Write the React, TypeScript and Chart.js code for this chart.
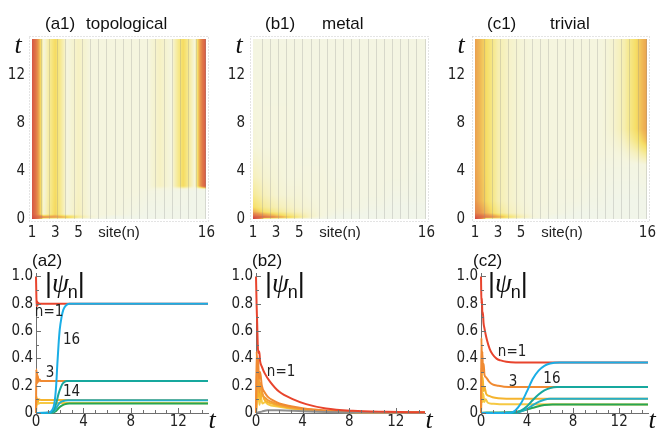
import React, { useEffect, useRef } from "react";
import { Chart, registerables } from "chart.js";

Chart.register(...registerables);

type Pt = [number, number];

// ---------------- heat maps: |psi_n| over site n (columns) and time t (rows) ----------------
const SITES = [1, 2, 3, 4, 5, 6, 7, 8, 9, 10, 11, 12, 13, 14, 15, 16];
const SITE_TICKS = [1, 3, 5, 16];
const HEAT_T_TICKS = [0, 4, 8, 12];

const TOPO_TIMES = [0, 0.15, 0.4, 2.3, 2.5, 2.75, 15];
const TOPO_MAP = [
  [1.0, 0, 0, 0, 0, 0, 0, 0, 0, 0, 0, 0, 0, 0, 0, 0],
  [0.85, 0.45, 0.4, 0.3, 0.14, 0.05, 0.02, 0, 0, 0, 0, 0, 0, 0, 0, 0],
  [0.8, 0.04, 0.24, 0.03, 0.08, 0.03, 0.03, 0.03, 0.02, 0.01, 0, 0, 0, 0, 0, 0],
  [0.8, 0.03, 0.23, 0.03, 0.07, 0.03, 0.03, 0.03, 0.03, 0.03, 0.02, 0.02, 0.01, 0.01, 0, 0],
  [0.8, 0.03, 0.23, 0.03, 0.07, 0.03, 0.03, 0.03, 0.03, 0.03, 0.03, 0.03, 0.02, 0.03, 0.01, 0.02],
  [0.8, 0.03, 0.23, 0.03, 0.07, 0.03, 0.03, 0.03, 0.03, 0.03, 0.03, 0.07, 0.03, 0.23, 0.03, 0.8],
  [0.8, 0.03, 0.23, 0.03, 0.07, 0.03, 0.03, 0.03, 0.03, 0.03, 0.03, 0.07, 0.03, 0.23, 0.03, 0.8],
];

const METAL_TIMES = [0, 0.15, 0.3, 0.6, 1.0, 2.0, 3.5, 6, 15];
const METAL_MAP = [
  [1.0, 0, 0, 0, 0, 0, 0, 0, 0, 0, 0, 0, 0, 0, 0, 0],
  [0.85, 0.6, 0.42, 0.28, 0.15, 0.06, 0.02, 0, 0, 0, 0, 0, 0, 0, 0, 0],
  [0.6, 0.4, 0.28, 0.19, 0.12, 0.06, 0.03, 0.01, 0, 0, 0, 0, 0, 0, 0, 0],
  [0.34, 0.2, 0.14, 0.1, 0.07, 0.05, 0.03, 0.02, 0.01, 0.01, 0, 0, 0, 0, 0, 0],
  [0.22, 0.13, 0.09, 0.07, 0.05, 0.04, 0.03, 0.03, 0.02, 0.02, 0.01, 0.01, 0, 0, 0, 0],
  [0.14, 0.08, 0.05, 0.04, 0.04, 0.03, 0.03, 0.03, 0.02, 0.02, 0.02, 0.02, 0.01, 0.01, 0.01, 0.01],
  [0.08, 0.05, 0.04, 0.03, 0.03, 0.03, 0.03, 0.02, 0.02, 0.02, 0.02, 0.02, 0.02, 0.02, 0.01, 0.01],
  [0.04, 0.03, 0.03, 0.03, 0.02, 0.02, 0.02, 0.02, 0.02, 0.02, 0.02, 0.02, 0.02, 0.02, 0.02, 0.02],
  [0.02, 0.02, 0.02, 0.02, 0.02, 0.02, 0.02, 0.02, 0.02, 0.02, 0.02, 0.02, 0.02, 0.02, 0.02, 0.02],
];

const TRIV_TIMES = [0, 0.15, 0.5, 1.5, 4.5, 5.5, 6.5, 7.5, 15];
const TRIV_MAP = [
  [1.0, 0, 0, 0, 0, 0, 0, 0, 0, 0, 0, 0, 0, 0, 0, 0],
  [0.8, 0.52, 0.36, 0.2, 0.1, 0.04, 0.02, 0, 0, 0, 0, 0, 0, 0, 0, 0],
  [0.5, 0.3, 0.15, 0.08, 0.05, 0.03, 0.02, 0.02, 0.01, 0, 0, 0, 0, 0, 0, 0],
  [0.4, 0.23, 0.1, 0.06, 0.04, 0.03, 0.03, 0.02, 0.02, 0.02, 0.01, 0.01, 0, 0, 0, 0],
  [0.37, 0.22, 0.1, 0.06, 0.04, 0.03, 0.03, 0.03, 0.03, 0.03, 0.03, 0.02, 0.02, 0.02, 0.02, 0.03],
  [0.37, 0.22, 0.1, 0.06, 0.04, 0.03, 0.03, 0.03, 0.03, 0.03, 0.03, 0.03, 0.03, 0.04, 0.08, 0.15],
  [0.37, 0.22, 0.1, 0.06, 0.04, 0.03, 0.03, 0.03, 0.03, 0.03, 0.03, 0.03, 0.04, 0.07, 0.16, 0.3],
  [0.37, 0.22, 0.1, 0.06, 0.04, 0.03, 0.03, 0.03, 0.03, 0.03, 0.03, 0.03, 0.05, 0.1, 0.22, 0.37],
  [0.37, 0.22, 0.1, 0.06, 0.04, 0.03, 0.03, 0.03, 0.03, 0.03, 0.03, 0.03, 0.05, 0.1, 0.22, 0.37],
];

// ---------------- time traces |psi_n|(t) ----------------
const T_TICKS = [0, 4, 8, 12];
const AMP_TICKS = [0, 0.2, 0.4, 0.6, 0.8, 1.0];

// (a2) topological
const A_N16: Pt[] = [[0, 0], [1.1, 0.003], [1.35, 0.02], [1.55, 0.07], [1.7, 0.2], [1.8, 0.36], [1.9, 0.5], [2.0, 0.61], [2.15, 0.7], [2.3, 0.755], [2.5, 0.785], [2.8, 0.8], [14.5, 0.8]];
const A_N14: Pt[] = [[0, 0], [1.2, 0.003], [1.5, 0.02], [1.7, 0.07], [1.9, 0.14], [2.1, 0.19], [2.3, 0.22], [2.6, 0.235], [14.5, 0.235]];
const A_N12: Pt[] = [[0, 0], [1.25, 0.002], [1.6, 0.02], [1.8, 0.05], [2.0, 0.075], [2.3, 0.088], [2.7, 0.093], [14.5, 0.093]];
const A_N10: Pt[] = [[0, 0], [1.3, 0.002], [1.7, 0.015], [1.9, 0.035], [2.1, 0.05], [2.4, 0.063], [2.8, 0.069], [14.5, 0.069]];
const A_N1: Pt[] = [[0, 1.0], [0.03, 0.86], [0.06, 0.78], [0.1, 0.82], [0.15, 0.79], [0.2, 0.805], [0.3, 0.8], [14.5, 0.8]];
const A_N3: Pt[] = [[0, 0], [0.03, 0.32], [0.06, 0.22], [0.09, 0.3], [0.12, 0.22], [0.16, 0.27], [0.2, 0.23], [0.3, 0.245], [0.4, 0.235], [14.5, 0.235]];
const A_N5: Pt[] = [[0, 0], [0.04, 0.12], [0.08, 0.075], [0.12, 0.105], [0.16, 0.085], [0.25, 0.1], [0.4, 0.096], [14.5, 0.096]];
const A_N7: Pt[] = [[0, 0], [0.05, 0.095], [0.1, 0.06], [0.15, 0.085], [0.22, 0.068], [0.35, 0.074], [14.5, 0.072]];

// (b2) metal
const B_N1: Pt[] = [[0, 1.0], [0.05, 0.8], [0.1, 0.66], [0.15, 0.5], [0.2, 0.44], [0.28, 0.45], [0.35, 0.38], [0.5, 0.34], [0.75, 0.29], [1.2, 0.23], [2.0, 0.155], [3.2, 0.1], [4.3, 0.065], [6.0, 0.033], [8.3, 0.016], [11.2, 0.009], [14.5, 0.005]];
const B_N2: Pt[] = [[0, 0], [0.06, 0.45], [0.12, 0.3], [0.18, 0.4], [0.25, 0.25], [0.35, 0.3], [0.5, 0.2], [0.75, 0.15], [1, 0.12], [1.5, 0.09], [2, 0.07], [3, 0.05], [4, 0.035], [5, 0.025], [6, 0.018], [8, 0.01], [10, 0.006], [14.5, 0.003]];
const B_N3: Pt[] = [[0, 0], [0.1, 0.35], [0.16, 0.18], [0.22, 0.3], [0.3, 0.15], [0.4, 0.22], [0.55, 0.14], [0.8, 0.11], [1, 0.095], [1.5, 0.075], [2, 0.06], [3, 0.042], [4, 0.03], [5, 0.022], [6, 0.015], [8, 0.008], [14.5, 0.003]];
const B_N4: Pt[] = [[0, 0], [0.14, 0.25], [0.2, 0.12], [0.28, 0.2], [0.38, 0.1], [0.5, 0.15], [0.7, 0.1], [1, 0.08], [1.5, 0.065], [2, 0.052], [3, 0.037], [4, 0.026], [5, 0.019], [6, 0.013], [8, 0.007], [14.5, 0.002]];
const B_N5: Pt[] = [[0, 0], [0.2, 0.15], [0.3, 0.06], [0.4, 0.12], [0.55, 0.07], [0.8, 0.08], [1, 0.065], [2, 0.045], [3, 0.032], [4, 0.022], [6, 0.011], [8, 0.006], [14.5, 0.002]];
const B_FAR: Pt[] = [[0, 0], [0.5, 0.01], [1, 0.02], [2, 0.02], [4, 0.012], [7, 0.006], [10, 0.004], [14.5, 0.002]];

// (c2) trivial
const C_N16: Pt[] = [[0, 0], [2.6, 0.002], [3.0, 0.02], [3.5, 0.075], [4.0, 0.16], [4.5, 0.25], [5.0, 0.31], [5.5, 0.345], [6.0, 0.362], [6.8, 0.37], [14.5, 0.37]];
const C_N14: Pt[] = [[0, 0], [2.9, 0.002], [3.5, 0.02], [4.0, 0.05], [4.5, 0.095], [5.0, 0.135], [5.5, 0.165], [6.0, 0.182], [6.6, 0.19], [14.5, 0.19]];
const C_N12: Pt[] = [[0, 0], [3.0, 0.002], [3.5, 0.012], [4.0, 0.03], [4.5, 0.058], [5.0, 0.082], [5.5, 0.097], [6.0, 0.104], [6.5, 0.105], [14.5, 0.105]];
const C_N10: Pt[] = [[0, 0], [0.5, 0.003], [2.5, 0.005], [3.0, 0.008], [3.5, 0.015], [4.0, 0.025], [4.5, 0.038], [5.0, 0.05], [5.5, 0.058], [6.2, 0.063], [14.5, 0.063]];
const C_N1: Pt[] = [[0, 1.0], [0.04, 0.8], [0.08, 0.84], [0.12, 0.72], [0.16, 0.74], [0.22, 0.66], [0.3, 0.62], [0.5, 0.54], [0.75, 0.47], [1.0, 0.43], [1.35, 0.398], [1.7, 0.385], [2.2, 0.375], [3.0, 0.37], [14.5, 0.37]];
const C_N3: Pt[] = [[0, 0], [0.04, 0.55], [0.08, 0.35], [0.12, 0.45], [0.17, 0.3], [0.23, 0.36], [0.3, 0.28], [0.45, 0.26], [0.7, 0.23], [1.0, 0.21], [1.5, 0.2], [2.0, 0.193], [3.0, 0.19], [14.5, 0.19]];
const C_N5: Pt[] = [[0, 0], [0.06, 0.33], [0.1, 0.2], [0.15, 0.26], [0.22, 0.16], [0.3, 0.19], [0.45, 0.14], [0.7, 0.125], [1.0, 0.115], [1.5, 0.108], [2.2, 0.105], [14.5, 0.105]];
const C_N7: Pt[] = [[0, 0], [0.08, 0.2], [0.14, 0.08], [0.2, 0.14], [0.28, 0.08], [0.4, 0.1], [0.6, 0.075], [1.0, 0.068], [1.6, 0.064], [14.5, 0.063]];

// ---------------- styles ----------------
const NARROW = "'Liberation Sans Narrow', 'DejaVu Sans Condensed', 'Liberation Sans', Arial, sans-serif";
const SANS = "'Liberation Sans', Arial, Helvetica, sans-serif";
const SERIF = "'Liberation Serif', 'DejaVu Serif', serif";
const TICK_COLOR = "#222";
const AXIS_COLOR = "#6f6f6f";

const RED = "#e8442d";
const ORANGE = "#f08a32";
const ORANGE2 = "#f29d36";
const AMBER = "#f5b42e";
const YELLOW = "#f6c944";
const BLUE = "#1aaee6";
const TEAL = "#17a89e";
const CYAN = "#25afc8";
const GREEN = "#27a552";
const GRAY = "#8f8f8f";

const HEAT_STOPS: [number, number[]][] = [
  [0.0, [241, 245, 233]],
  [0.03, [245, 245, 222]],
  [0.08, [246, 240, 188]],
  [0.15, [246, 232, 140]],
  [0.22, [246, 222, 102]],
  [0.3, [240, 186, 86]],
  [0.4, [232, 150, 78]],
  [0.55, [224, 118, 72]],
  [0.8, [214, 86, 70]],
  [1.0, [200, 62, 62]],
];

function heatColor(v: number): number[] {
  if (v <= HEAT_STOPS[0][0]) return HEAT_STOPS[0][1];
  for (let i = 1; i < HEAT_STOPS.length; i++) {
    const [v1, c1] = HEAT_STOPS[i];
    if (v <= v1) {
      const [v0, c0] = HEAT_STOPS[i - 1];
      const f = (v - v0) / (v1 - v0);
      return [0, 1, 2].map((k) => Math.round(c0[k] + (c1[k] - c0[k]) * f));
    }
  }
  return HEAT_STOPS[HEAT_STOPS.length - 1][1];
}

const clamp = (v: number, a: number, b: number) => Math.max(a, Math.min(b, v));

function heatPlugin(times: number[], map: number[][]) {
  return {
    id: "heat",
    beforeDatasetsDraw(chart: any) {
      const { ctx, chartArea: a, scales } = chart;
      const xs = scales.x;
      const ys = scales.y;
      const L = Math.round(a.left);
      const T = Math.round(a.top);
      const W = Math.round(a.right) - L;
      const H = Math.round(a.bottom) - T;
      if (W <= 0 || H <= 0) return;
      const off = document.createElement("canvas");
      off.width = W;
      off.height = H;
      const octx = off.getContext("2d")!;
      const img = octx.createImageData(W, H);
      const n = SITES.length;
      for (let py = 0; py < H; py++) {
        const t = ys.getValueForPixel(T + py + 0.5);
        let r = 0;
        while (r < times.length - 2 && t > times[r + 1]) r++;
        const ft = clamp((t - times[r]) / (times[r + 1] - times[r]), 0, 1);
        for (let px = 0; px < W; px++) {
          const s = xs.getValueForPixel(L + px + 0.5);
          let c = 0;
          while (c < n - 2 && s > SITES[c + 1]) c++;
          const fs = clamp((s - SITES[c]) / (SITES[c + 1] - SITES[c]), 0, 1);
          const v0 = map[r][c] * (1 - fs) + map[r][c + 1] * fs;
          const v1 = map[r + 1][c] * (1 - fs) + map[r + 1][c + 1] * fs;
          const col = heatColor(v0 * (1 - ft) + v1 * ft);
          const k = (py * W + px) * 4;
          img.data[k] = col[0];
          img.data[k + 1] = col[1];
          img.data[k + 2] = col[2];
          img.data[k + 3] = 255;
        }
      }
      octx.putImageData(img, 0, 0);
      ctx.drawImage(off, L, T);
    },
  };
}

const framePlugin = {
  id: "frame",
  afterDraw(chart: any) {
    const { ctx, chartArea: a } = chart;
    ctx.save();
    ctx.strokeStyle = "#c9c9c9";
    ctx.lineWidth = 1;
    ctx.setLineDash([1, 2]);
    ctx.strokeRect(Math.round(a.left) - 2.5, Math.round(a.top) - 2.5, Math.round(a.width) + 5, Math.round(a.height) + 5);
    ctx.restore();
  },
};

const axisTicksPlugin = {
  id: "axisTicks",
  afterDraw(chart: any) {
    const { ctx, chartArea: a, scales } = chart;
    const xs = scales.x;
    const ys = scales.y;
    ctx.save();
    ctx.strokeStyle = AXIS_COLOR;
    ctx.lineWidth = 1;
    const seg = (x1: number, y1: number, x2: number, y2: number) => {
      ctx.beginPath();
      ctx.moveTo(x1, y1);
      ctx.lineTo(x2, y2);
      ctx.stroke();
    };
    const yt = ys.ticks.map((t: any) => t.value);
    yt.forEach((v: number, i: number) => {
      const p = Math.round(ys.getPixelForValue(v)) + 0.5;
      seg(a.left, p, a.left + 5, p);
      if (i < yt.length - 1) {
        const m = Math.round(ys.getPixelForValue((v + yt[i + 1]) / 2)) + 0.5;
        seg(a.left, m, a.left + 3, m);
      }
    });
    const xt = xs.ticks.map((t: any) => t.value);
    xt.forEach((v: number, i: number) => {
      const p = Math.round(xs.getPixelForValue(v)) + 0.5;
      seg(p, a.bottom, p, a.bottom - 5);
      const next = i < xt.length - 1 ? xt[i + 1] : v + (xt[1] - xt[0]);
      for (let k = 1; k < 4; k++) {
        const mv = v + ((next - v) * k) / 4;
        if (mv > xs.max) break;
        const m = Math.round(xs.getPixelForValue(mv)) + 0.5;
        seg(m, a.bottom, m, a.bottom - 3);
      }
    });
    ctx.restore();
  },
};

type TextItem = {
  text: string;
  font: string;
  at: "area" | "data";
  x: number;
  y: number;
  hx?: "left" | "right";
  vy?: "top" | "bottom";
  align?: CanvasTextAlign;
  baseline?: CanvasTextBaseline;
  color?: string;
  psi?: boolean;
};

function drawPsi(ctx: CanvasRenderingContext2D, x: number, base: number) {
  ctx.textAlign = "left";
  ctx.textBaseline = "alphabetic";
  ctx.fillStyle = "#111";
  ctx.font = `27px ${SANS}`;
  ctx.fillText("|", x, base);
  let cx = x + ctx.measureText("|").width;
  ctx.font = `italic 27px ${SERIF}`;
  ctx.fillText("ψ", cx, base);
  cx += ctx.measureText("ψ").width - 1;
  ctx.font = `18px ${SANS}`;
  ctx.fillText("n", cx, base + 6);
  cx += ctx.measureText("n").width;
  ctx.font = `27px ${SANS}`;
  ctx.fillText("|", cx, base);
}

function textPlugin(items: TextItem[]) {
  return {
    id: "texts",
    afterDraw(chart: any) {
      const { ctx, chartArea: a, scales } = chart;
      ctx.save();
      for (const it of items) {
        let px: number;
        let py: number;
        if (it.at === "data") {
          px = scales.x.getPixelForValue(it.x);
          py = scales.y.getPixelForValue(it.y);
        } else {
          px = (it.hx === "right" ? a.right : a.left) + it.x;
          py = (it.vy === "bottom" ? a.bottom : a.top) + it.y;
        }
        if (it.psi) {
          drawPsi(ctx, px, py);
          continue;
        }
        ctx.font = it.font;
        ctx.fillStyle = it.color || "#111";
        ctx.textAlign = it.align || "center";
        ctx.textBaseline = it.baseline || "middle";
        ctx.fillText(it.text, px, py);
      }
      ctx.restore();
    },
  };
}

type HeatSpec = {
  times: number[];
  map: number[][];
  yWidth: number;
  rightPad: number;
  tag: string;
  tagDx: number;
  name: string;
  nameDx: number;
};

function heatConfig(p: HeatSpec): any {
  const tickFont = { family: NARROW, size: 15 };
  return {
    type: "scatter",
    data: { datasets: [] },
    options: {
      responsive: false,
      maintainAspectRatio: false,
      animation: false,
      events: [],
      layout: { padding: { left: 0, top: 39, right: p.rightPad, bottom: 0 } },
      plugins: { legend: { display: false }, tooltip: { enabled: false }, title: { display: false } },
      scales: {
        x: {
          type: "linear",
          min: SITES[0],
          max: SITES[SITES.length - 1],
          grid: { display: false, drawTicks: false, tickLength: 0 },
          border: { display: false },
          ticks: { font: tickFont, color: TICK_COLOR, padding: 5, autoSkip: false, maxRotation: 0, callback: (v: any) => String(v) },
          afterBuildTicks: (s: any) => {
            s.ticks = SITE_TICKS.map((value) => ({ value }));
          },
          afterFit: (s: any) => {
            s.height = 26;
          },
        },
        stripes: {
          type: "linear",
          axis: "x",
          position: "bottom",
          min: -0.14,
          max: 21.16,
          grid: { display: true, z: 1, color: "rgba(140,140,140,0.28)", lineWidth: 1, drawTicks: false, tickLength: 0 },
          border: { display: false },
          ticks: { display: false },
          afterBuildTicks: (s: any) => {
            s.ticks = Array.from({ length: 21 }, (_, i) => ({ value: i + 1 }));
          },
          afterFit: (s: any) => {
            s.height = 0;
          },
        },
        y: {
          type: "linear",
          min: 0,
          max: 15,
          grid: { display: false, drawTicks: false, tickLength: 0 },
          border: { display: false },
          ticks: { font: tickFont, color: TICK_COLOR, padding: p.yWidth - 25, callback: (v: any) => String(v) },
          afterBuildTicks: (s: any) => {
            s.ticks = HEAT_T_TICKS.map((value) => ({ value }));
          },
          afterFit: (s: any) => {
            s.width = p.yWidth;
          },
        },
      },
    },
    plugins: [
      heatPlugin(p.times, p.map),
      framePlugin,
      textPlugin([
        { text: p.tag, font: `17px ${SANS}`, at: "area", x: p.tagDx, y: -10.5, align: "left", baseline: "alphabetic" },
        { text: p.name, font: `17px ${SANS}`, at: "area", x: p.nameDx, y: -10.5, align: "left", baseline: "alphabetic" },
        { text: "t", font: `italic 26px ${SERIF}`, at: "area", x: -14, y: 14, align: "center", baseline: "alphabetic" },
        { text: "site(n)", font: `15px ${SANS}`, at: "area", x: 87, y: 13.5, vy: "bottom", align: "center", baseline: "middle", color: TICK_COLOR },
      ]),
    ],
  };
}

type Series = { pts: Pt[]; color: string; label: string };

type TraceSpec = {
  series: Series[];
  yWidth: number;
  rightPad: number;
  tag: string;
  tagDx: number;
  psiDx: number;
  notes: { text: string; t: number; v: number }[];
};

function traceConfig(p: TraceSpec): any {
  const tickFont = { family: NARROW, size: 15 };
  return {
    type: "line",
    data: {
      datasets: p.series.map((s) => ({
        label: s.label,
        data: s.pts.map(([x, y]) => ({ x, y })),
        borderColor: s.color,
        backgroundColor: s.color,
        borderWidth: 2,
        pointRadius: 0,
        fill: false,
        cubicInterpolationMode: "monotone",
        clip: 4,
      })),
    },
    options: {
      responsive: false,
      maintainAspectRatio: false,
      animation: false,
      events: [],
      layout: { padding: { left: 0, top: 28, right: p.rightPad, bottom: 0 } },
      plugins: { legend: { display: false }, tooltip: { enabled: false }, title: { display: false } },
      scales: {
        x: {
          type: "linear",
          min: 0,
          max: 14.5,
          grid: { display: false, drawTicks: false, tickLength: 0 },
          border: { display: true, color: AXIS_COLOR, width: 1 },
          ticks: { font: tickFont, color: TICK_COLOR, padding: 0, autoSkip: false, maxRotation: 0, callback: (v: any) => String(v) },
          afterBuildTicks: (s: any) => {
            s.ticks = T_TICKS.map((value) => ({ value }));
          },
          afterFit: (s: any) => {
            s.height = 18;
          },
        },
        y: {
          type: "linear",
          min: 0,
          max: 1.025,
          grid: { display: false, drawTicks: false, tickLength: 0 },
          border: { display: true, color: AXIS_COLOR, width: 1 },
          ticks: { font: tickFont, color: TICK_COLOR, padding: 3, callback: (v: any) => (v === 0 ? "0" : Number(v).toFixed(1)) },
          afterBuildTicks: (s: any) => {
            s.ticks = AMP_TICKS.map((value) => ({ value }));
          },
          afterFit: (s: any) => {
            s.width = p.yWidth;
          },
        },
      },
    },
    plugins: [
      axisTicksPlugin,
      textPlugin([
        { text: p.tag, font: `17px ${SANS}`, at: "area", x: p.tagDx, y: -7, align: "left", baseline: "alphabetic" },
        { text: "|ψn|", font: `27px ${SANS}`, at: "area", x: p.psiDx, y: 19, psi: true },
        { text: "t", font: `italic 26px ${SERIF}`, at: "area", x: 4, y: 15, hx: "right", vy: "bottom", align: "center", baseline: "alphabetic" },
        ...p.notes.map((n) => ({ text: n.text, font: `15px ${NARROW}`, at: "data" as const, x: n.t, y: n.v, align: "center" as CanvasTextAlign, baseline: "middle" as CanvasTextBaseline, color: "#222" })),
      ]),
    ],
  };
}

const buildA1 = () =>
  heatConfig({ times: TOPO_TIMES, map: TOPO_MAP, yWidth: 32, rightPad: 7, tag: "(a1)", tagDx: 13, name: "topological", nameDx: 54 });
const buildB1 = () =>
  heatConfig({ times: METAL_TIMES, map: METAL_MAP, yWidth: 33, rightPad: 7, tag: "(b1)", tagDx: 12, name: "metal", nameDx: 69 });
const buildC1 = () =>
  heatConfig({ times: TRIV_TIMES, map: TRIV_MAP, yWidth: 35, rightPad: 6, tag: "(c1)", tagDx: 12, name: "trivial", nameDx: 75 });

const buildA2 = () =>
  traceConfig({
    series: [
      { label: "n=16", pts: A_N16, color: BLUE },
      { label: "n=14", pts: A_N14, color: TEAL },
      { label: "n=12", pts: A_N12, color: CYAN },
      { label: "n=10", pts: A_N10, color: GREEN },
      { label: "n=1", pts: A_N1, color: RED },
      { label: "n=3", pts: A_N3, color: ORANGE },
      { label: "n=5", pts: A_N5, color: AMBER },
      { label: "n=7", pts: A_N7, color: YELLOW },
    ],
    yWidth: 36,
    rightPad: 12,
    tag: "(a2)",
    tagDx: -4,
    psiDx: 9,
    notes: [
      { text: "n=1", t: 1.1, v: 0.74 },
      { text: "16", t: 3.0, v: 0.535 },
      { text: "3", t: 1.18, v: 0.293 },
      { text: "14", t: 3.0, v: 0.154 },
    ],
  });

const buildB2 = () =>
  traceConfig({
    series: [
      { label: "n=1", pts: B_N1, color: RED },
      { label: "far", pts: B_FAR, color: GRAY },
      { label: "n=2", pts: B_N2, color: ORANGE },
      { label: "n=3", pts: B_N3, color: ORANGE2 },
      { label: "n=4", pts: B_N4, color: AMBER },
      { label: "n=5", pts: B_N5, color: YELLOW },
    ],
    yWidth: 36,
    rightPad: 15,
    tag: "(b2)",
    tagDx: -4,
    psiDx: 9,
    notes: [{ text: "n=1", t: 2.15, v: 0.3 }],
  });

const buildC2 = () =>
  traceConfig({
    series: [
      { label: "n=16", pts: C_N16, color: BLUE },
      { label: "n=14", pts: C_N14, color: TEAL },
      { label: "n=12", pts: C_N12, color: CYAN },
      { label: "n=10", pts: C_N10, color: GREEN },
      { label: "n=1", pts: C_N1, color: RED },
      { label: "n=3", pts: C_N3, color: ORANGE },
      { label: "n=5", pts: C_N5, color: AMBER },
      { label: "n=7", pts: C_N7, color: YELLOW },
    ],
    yWidth: 41,
    rightPad: 13,
    tag: "(c2)",
    tagDx: -8,
    psiDx: 7,
    notes: [
      { text: "n=1", t: 2.7, v: 0.447 },
      { text: "3", t: 2.78, v: 0.227 },
      { text: "16", t: 6.16, v: 0.249 },
    ],
  });

function ChartBox({ left, top, width, height, build }: { left: number; top: number; width: number; height: number; build: () => any }) {
  const ref = useRef<HTMLCanvasElement | null>(null);
  useEffect(() => {
    if (!ref.current) return;
    const chart = new Chart(ref.current, build());
    return () => chart.destroy();
  }, [build]);
  return (
    <canvas
      ref={ref}
      width={width}
      height={height}
      style={{ position: "absolute", left, top, width, height, display: "block" }}
    />
  );
}

export default function App() {
  return (
    <div style={{ position: "absolute", left: 0, top: 0, width: 661, height: 431, background: "#ffffff", overflow: "hidden" }}>
      <ChartBox left={0} top={0} width={220} height={245} build={buildA1} />
      <ChartBox left={220} top={0} width={220} height={245} build={buildB1} />
      <ChartBox left={440} top={0} width={221} height={245} build={buildC1} />
      <ChartBox left={0} top={245} width={220} height={186} build={buildA2} />
      <ChartBox left={220} top={245} width={220} height={186} build={buildB2} />
      <ChartBox left={440} top={245} width={221} height={186} build={buildC2} />
    </div>
  );
}
